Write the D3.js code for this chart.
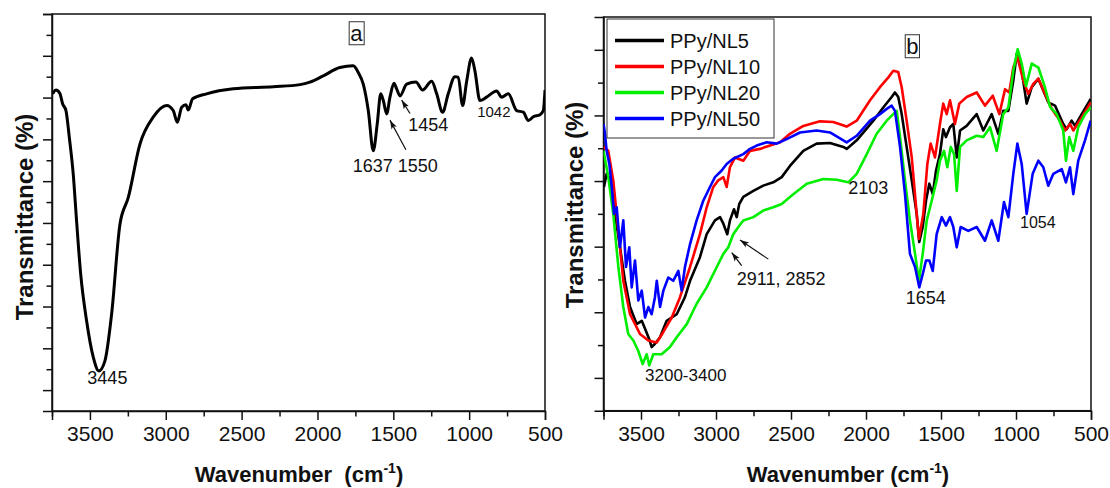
<!DOCTYPE html>
<html>
<head>
<meta charset="utf-8">
<script src="https://cdn.jsdelivr.net/npm/d3@7"></script>
<style>
body{margin:0;background:#fff;}
text{font-family:"Liberation Sans", Arial, sans-serif;fill:#111;}
</style>
</head>
<body>
<svg id="chart" width="1110" height="488"><defs id="definitions"></defs></svg>
<script>
// x ticks (wavenumber, cm-1) shared by both panels
var xTicks = [3500, 3000, 2500, 2000, 1500, 1000, 500];
var xMinorTicks = [3750, 3250, 2750, 2250, 1750, 1250, 750];
var yTicksA = [0, 1, 2, 3, 4, 5, 6, 7, 8, 9];
var yMinorA = [0.5, 1.5, 2.5, 3.5, 4.5, 5.5, 6.5, 7.5, 8.5];
var yTicksB = [0, 1, 2, 3, 4, 5];
var yMinorB = [0.5, 1.5, 2.5, 3.5, 4.5];

// panel a : [wavenumber, transmittance]
var spectrumA = [[3746,7.09],[3724,7.18],[3698,7.10],[3680,6.85],[3658,6.69],[3636,6.05],[3610,5.17],
  [3588,4.05],[3561,2.78],[3522,1.66],[3478,0.79],[3441,0.46],[3401,0.70],[3357,1.82],[3302,3.97],
  [3247,4.61],[3170,5.89],[3083,6.53],[2994,6.81],[2951,6.69],[2924,6.41],[2895,6.77],[2867,6.83],
  [2852,6.70],[2823,6.97],[2731,7.09],[2555,7.21],[2291,7.26],[2115,7.31],[2050,7.37],[1962,7.52],
  [1852,7.72],[1764,7.76],[1731,7.60],[1698,7.32],[1665,6.69],[1632,5.73],[1606,6.37],[1583,7.09],
  [1566,6.93],[1544,6.61],[1522,7.01],[1496,7.34],[1478,7.21],[1456,7.04],[1412,7.32],[1351,7.37],
  [1307,7.18],[1247,7.39],[1214,7.09],[1175,6.65],[1138,7.09],[1094,7.50],[1072,7.49],[1043,6.81],
  [1016,7.40],[984,7.95],[962,7.64],[929,6.93],[885,7.01],[819,7.16],[786,7.01],[742,7.09],
  [687,6.69],[643,6.65],[610,6.45],[577,6.54],[533,6.59],[511,6.69],[500,7.18]];

// panel b series
var seriesNames = ["PPy/NL5", "PPy/NL10", "PPy/NL20", "PPy/NL50"];
var seriesColors = ["#000000", "#ff0000", "#00ee00", "#0000ff"];

var nl5 = [[3747,2.91],[3729,3.11],[3702,3.01],[3673,2.50],[3640,1.99],[3607,1.48],[3573,1.08],
  [3529,0.82],[3495,0.87],[3473,0.75],[3445,0.59],[3429,0.47],[3407,0.52],[3373,0.62],[3329,0.87],
  [3262,0.97],[3207,1.23],[3173,1.48],[3107,1.84],[3062,2.19],[3007,2.40],[2973,2.45],[2951,2.35],
  [2925,2.19],[2907,2.40],[2880,2.57],[2862,2.45],[2845,2.65],[2818,2.76],[2751,2.85],[2685,2.93],
  [2618,2.98],[2562,3.06],[2507,3.23],[2418,3.46],[2329,3.57],[2240,3.58],[2151,3.52],[2129,3.49],
  [2062,3.62],[1951,3.92],[1885,4.12],[1829,4.28],[1807,4.35],[1785,4.28],[1762,4.02],[1729,3.52],
  [1695,3.01],[1662,2.50],[1645,2.07],[1622,2.30],[1600,2.70],[1578,2.96],[1555,2.80],[1533,3.16],
  [1507,3.41],[1485,3.79],[1467,3.67],[1440,3.82],[1418,3.87],[1395,3.36],[1373,3.77],[1329,3.84],
  [1262,4.02],[1218,3.77],[1162,4.02],[1118,3.72],[1085,4.07],[1051,4.07],[1018,4.53],[995,4.94],
  [962,4.68],[929,4.18],[895,4.43],[851,4.56],[818,4.38],[785,4.20],[740,4.15],[685,3.87],
  [662,3.79],[629,3.92],[607,3.84],[562,4.02],[502,4.25]];

var nl10 = [[3750,3.52],[3718,3.46],[3685,3.01],[3651,2.24],[3618,1.48],[3573,0.97],[3507,0.67],
  [3451,0.57],[3395,0.54],[3351,0.70],[3295,0.92],[3240,1.23],[3173,1.69],[3107,2.19],[3062,2.60],
  [3018,2.91],[2985,3.01],[2951,3.06],[2929,2.91],[2907,3.21],[2873,3.36],[2818,3.31],[2773,3.46],
  [2707,3.49],[2640,3.54],[2573,3.59],[2507,3.72],[2418,3.84],[2307,3.91],[2218,3.90],[2129,3.83],
  [2062,3.92],[1973,4.23],[1907,4.43],[1851,4.58],[1818,4.68],[1785,4.66],[1762,4.43],[1729,3.92],
  [1695,3.36],[1662,2.50],[1647,2.12],[1618,2.50],[1591,3.26],[1569,3.57],[1540,3.36],[1507,3.87],
  [1485,4.18],[1462,4.02],[1440,4.23],[1407,3.87],[1378,4.18],[1329,4.28],[1262,4.35],[1207,4.15],
  [1155,4.30],[1111,4.02],[1073,4.40],[1045,4.35],[1018,4.73],[991,4.89],[951,4.53],[918,4.33],
  [885,4.48],[851,4.56],[807,4.33],[762,4.10],[707,3.92],[673,3.77],[640,3.87],[618,3.77],
  [562,3.97],[502,4.20]];

var nl20 = [[3750,3.46],[3718,3.06],[3685,2.50],[3651,1.69],[3618,1.08],[3585,0.67],[3551,0.57],
  [3518,0.41],[3489,0.21],[3462,0.36],[3445,0.19],[3418,0.36],[3362,0.36],[3307,0.47],[3262,0.62],
  [3195,0.82],[3129,1.13],[3062,1.38],[2995,1.69],[2951,1.89],[2918,1.99],[2885,2.19],[2851,2.30],
  [2818,2.40],[2751,2.45],[2685,2.55],[2618,2.60],[2562,2.65],[2485,2.80],[2395,2.96],[2285,3.03],
  [2195,3.02],[2118,2.98],[2062,3.11],[1995,3.41],[1929,3.72],[1862,3.92],[1818,4.02],[1795,4.07],
  [1773,3.67],[1740,3.01],[1707,2.40],[1673,1.89],[1647,1.48],[1622,1.89],[1595,2.40],[1562,2.70],
  [1529,3.01],[1507,3.31],[1480,3.46],[1458,3.21],[1435,3.52],[1413,3.41],[1395,2.85],[1373,3.52],
  [1329,3.62],[1262,3.69],[1218,3.67],[1173,3.82],[1129,3.46],[1085,4.02],[1051,4.12],[1018,4.68],
  [989,5.01],[962,4.79],[933,4.45],[895,4.79],[851,4.73],[807,4.43],[773,4.13],[729,4.02],
  [685,3.77],[667,3.31],[645,3.67],[618,3.46],[585,3.82],[540,4.02],[502,4.12]];

var nl50 = [[3750,3.87],[3740,3.72],[3729,3.46],[3711,3.26],[3695,2.91],[3680,2.50],[3662,2.60],
  [3640,1.99],[3618,2.40],[3600,1.69],[3578,1.99],[3562,1.38],[3540,1.79],[3518,1.18],[3495,1.33],
  [3473,0.92],[3451,1.08],[3429,0.97],[3407,1.23],[3395,1.48],[3373,1.08],[3351,1.33],[3318,1.53],
  [3285,1.48],[3251,1.63],[3229,1.33],[3207,1.69],[3173,2.04],[3129,2.40],[3085,2.70],[3040,2.91],
  [3007,3.06],[2962,3.16],[2929,3.26],[2885,3.34],[2818,3.41],[2773,3.49],[2729,3.54],[2662,3.59],
  [2595,3.57],[2529,3.64],[2440,3.74],[2329,3.77],[2240,3.74],[2129,3.59],[2062,3.69],[1973,3.92],
  [1907,4.02],[1862,4.10],[1829,4.15],[1807,4.07],[1773,3.52],[1740,2.80],[1707,1.89],[1673,1.69],
  [1645,1.38],[1622,1.58],[1600,1.79],[1578,1.79],[1555,1.63],[1529,2.19],[1495,2.45],[1467,2.32],
  [1440,2.45],[1418,2.30],[1395,1.99],[1369,2.30],[1318,2.24],[1262,2.30],[1207,2.09],[1162,2.40],
  [1118,2.09],[1080,2.68],[1051,2.45],[1018,3.11],[991,3.57],[962,3.26],[929,2.50],[889,3.11],
  [851,3.31],[818,3.21],[785,2.93],[751,3.11],[695,3.18],[667,2.98],[640,3.21],[618,2.80],
  [585,3.31],[540,3.62],[502,3.92]];

var seriesB = [nl5, nl10, nl20, nl50];

// peak labels: text, wavenumber, value, size
var labelsA = [["3445", 3385, 0.15, 18, "middle"], ["1637 1550", 1768, 5.21, 18, "start"],
  ["1454", 1401, 6.21, 18, "start"], ["1042", 947, 6.53, 15, "start"]];
var arrowsA = [[1417, 5.75, 1522, 6.46], [1390, 6.62, 1445, 6.94]];
var labelsB = [["3200-3400", 3473, -0.04, 17, "start"], ["2911, 2852", 2862, 1.41, 18, "start"],
  ["2103", 2118, 2.80, 18, "start"], ["1654", 1735, 1.13, 18, "start"], ["1054", 973, 2.29, 16, "start"]];
var arrowsB = [[2651, 1.81, 2840, 2.10], [2829, 1.71, 2895, 1.91]];

var svg = d3.select("#chart");

d3.select("#definitions").append("svg:marker")
  .attr("id", "markerArrow")
  .attr("markerWidth", "10")
  .attr("markerHeight", "10")
  .attr("refX", "9")
  .attr("refY", "4")
  .attr("markerUnits", "userSpaceOnUse")
  .attr("orient", "auto")
  .append("svg:path")
    .attr("d", "M0,1 L9,4 L0,7 L2,4 Z")
    .style("fill", "#111");

/*
draws a framed panel with major and minor ticks

box: {left, right, top, bottom} of the plot area
yDomain: [min, max] of the value axis
returns: {g, x, y}
*/
function drawPanel(box, yDomain, yMajor, yMinor, id){
  var x = d3.scaleLinear().domain([3750, 500]).range([box.left, box.right]);
  var y = d3.scaleLinear().domain(yDomain).range([box.bottom, box.top]);
  var g = svg.append("g");

  g.append("clipPath").attr("id", id).append("rect")
    .attr("x", box.left).attr("y", box.top)
    .attr("width", box.right - box.left).attr("height", box.bottom - box.top);

  var xAxis = g.append("g").attr("transform", "translate(0," + box.bottom + ")")
    .call(d3.axisBottom(x).tickValues(xTicks).tickSize(9).tickPadding(6).tickFormat(d3.format("d")));
  xAxis.selectAll("text").style("font-size", "21px").style("fill", "#111");
  var xMinor = g.append("g").attr("transform", "translate(0," + box.bottom + ")")
    .call(d3.axisBottom(x).tickValues(xMinorTicks).tickSize(5.5).tickFormat(""));
  xMinor.select(".domain").remove();

  var yAxis = g.append("g").attr("transform", "translate(" + box.left + ",0)")
    .call(d3.axisLeft(y).tickValues(yMajor).tickSize(9).tickFormat(""));
  var yMin = g.append("g").attr("transform", "translate(" + box.left + ",0)")
    .call(d3.axisLeft(y).tickValues(yMinor).tickSize(5.5).tickFormat(""));
  yMin.select(".domain").remove();

  g.selectAll(".tick line").style("stroke", "#111").style("stroke-width", "1.5px");
  g.selectAll(".domain").style("stroke", "#111").style("stroke-width", "1.5px");

  g.append("rect")
    .attr("x", box.left).attr("y", box.top)
    .attr("width", box.right - box.left).attr("height", box.bottom - box.top)
    .style("fill", "none").style("stroke", "#111").style("stroke-width", "1.5px");

  return {g: g, x: x, y: y};
}

function drawLabels(p, labels, arrows){
  labels.forEach(function(l){
    p.g.append("text")
      .attr("x", p.x(l[1])).attr("y", p.y(l[2]))
      .attr("text-anchor", l[4])
      .style("font-size", l[3] + "px")
      .text(l[0]);
  });
  arrows.forEach(function(a){
    p.g.append("path")
      .attr("d", "M" + p.x(a[0]) + "," + p.y(a[1]) + "L" + p.x(a[2]) + "," + p.y(a[3]))
      .style("stroke", "#111").style("stroke-width", "1.2px").style("fill", "none")
      .style("marker-end", "url(#markerArrow)");
  });
}

function boxedLetter(p, letter, w, v){
  var t = p.g.append("text")
    .attr("x", p.x(w)).attr("y", p.y(v))
    .attr("text-anchor", "middle")
    .style("font-size", "22px")
    .text(letter);
  var bb = t.node().getBBox();
  p.g.append("rect")
    .attr("x", bb.x - 1).attr("y", bb.y + 1)
    .attr("width", bb.width + 2).attr("height", bb.height - 2)
    .style("fill", "none").style("stroke", "#333").style("stroke-width", "1px");
}

function axisTitles(cx, cy, xTitle, ty, tx){
  svg.append("text")
    .attr("transform", "translate(" + tx + "," + ty + ") rotate(-90)")
    .attr("text-anchor", "middle")
    .style("font-size", "24px").style("font-weight", "bold")
    .text("Transmittance (%)");
  var t = svg.append("text")
    .attr("x", cx).attr("y", cy)
    .attr("text-anchor", "middle")
    .style("font-size", "22px").style("font-weight", "bold");
  t.append("tspan").text(xTitle);
  t.append("tspan").attr("dy", "-9").style("font-size", "14px").text("-1");
  t.append("tspan").attr("dy", "9").text(")");
}

// ---- panel a
var pa = drawPanel({left: 52, right: 545, top: 14, bottom: 411}, [-0.5, 9], yTicksA, yMinorA, "clipA");
var lineA = d3.line().x(function(d){ return pa.x(d[0]); }).y(function(d){ return pa.y(d[1]); })
  .curve(d3.curveMonotoneX);
pa.g.append("path").datum(spectrumA)
  .attr("d", lineA).attr("clip-path", "url(#clipA)")
  .style("fill", "none").style("stroke", "#000").style("stroke-width", "3px")
  .style("stroke-linejoin", "round");
drawLabels(pa, labelsA, arrowsA);
boxedLetter(pa, "a", 1744, 8.36);
axisTitles(299, 482, "Wavenumber\u00a0\u00a0(cm", 217, 33);

// ---- panel b
var pb = drawPanel({left: 603.5, right: 1091, top: 17, bottom: 410.7}, [-0.5, 5.5], yTicksB, yMinorB, "clipB");
var lineB = d3.line().x(function(d){ return pb.x(d[0]); }).y(function(d){ return pb.y(d[1]); });
seriesB.forEach(function(s, i){
  pb.g.append("path").datum(s)
    .attr("d", lineB).attr("clip-path", "url(#clipB)")
    .style("fill", "none").style("stroke", seriesColors[i]).style("stroke-width", "2.6px")
    .style("stroke-linejoin", "round");
});
drawLabels(pb, labelsB, arrowsB);
boxedLetter(pb, "b", 1691, 4.94);
axisTitles(848, 482, "Wavenumber (cm", 205, 583);

// legend
var leg = svg.append("g");
leg.append("rect").attr("x", 607).attr("y", 19).attr("width", 167).attr("height", 119)
  .style("fill", "#fff").style("stroke", "#333").style("stroke-width", "1px");
seriesNames.forEach(function(name, i){
  var yy = 40.5 + i * 26;
  leg.append("line").attr("x1", 615).attr("x2", 664).attr("y1", yy).attr("y2", yy)
    .style("stroke", seriesColors[i]).style("stroke-width", "3.5px");
  leg.append("text").attr("x", 670).attr("y", yy + 7.5)
    .style("font-size", "20px").text(name);
});
</script>
</body>
</html>
